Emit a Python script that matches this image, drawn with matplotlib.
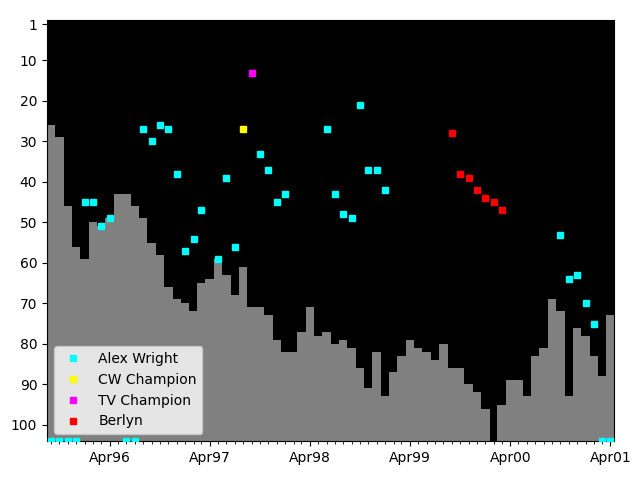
import matplotlib
matplotlib.use('Agg')
import matplotlib.pyplot as plt
import matplotlib.dates as mdates
import numpy as np
import pandas as pd

# Monthly bar values (rank), starting Sep 1995; None = no bar
bar_start = '1995-09-01'
bar_values = [26, 29, 46, 56, 59, 50, 51, 49, 43, 43, 46, 49, 55, 58, 66, 69,
              70, 72, 65, 64, 59, 63, 68, 61, 71, 71, 73, 79, 82, 82, 77, 71,
              78, 77, 80, 79, 81, 86, 91, 82, 93, 87, 83, 79, 81, 82, 84, 80,
              86, 86, 90, 92, 96, None, 95, 89, 89, 93, 83, 81, 69, 72, 93, 76,
              78, 83, 88, 73]

alex_months = ['1996-01', '1996-02', '1996-03', '1996-04', '1996-08', '1996-09',
               '1996-10', '1996-11', '1996-12', '1997-01', '1997-02', '1997-03',
               '1997-05', '1997-06', '1997-07', '1997-10', '1997-11', '1997-12',
               '1998-01', '1998-06', '1998-07', '1998-08', '1998-09', '1998-10',
               '1998-11', '1998-12', '1999-01', '2000-10', '2000-11', '2000-12',
               '2001-01', '2001-02']
alex_ranks = [45, 45, 51, 49, 27, 30, 26, 27, 38, 57, 54, 47,
              59, 39, 56, 33, 37, 45, 43, 27, 43, 48, 49, 21,
              37, 37, 42, 53, 64, 63, 70, 75]
unranked_months = ['1995-09', '1995-10', '1995-11', '1995-12', '1996-06',
                   '1996-07', '2001-03', '2001-04']

cw_months = ['1997-08']
cw_ranks = [27]
tv_months = ['1997-09']
tv_ranks = [13]
berlyn_months = ['1999-09', '1999-10', '1999-11', '1999-12', '2000-01',
                 '2000-02', '2000-03']
berlyn_ranks = [28, 38, 39, 42, 44, 45, 47]

y_bottom = 104
y_ticks = [1, 10, 20, 30, 40, 50, 60, 70, 80, 90, 100]

bar_dates = pd.date_range(bar_start, periods=len(bar_values), freq='MS')
vals = np.array([np.nan if v is None else v for v in bar_values], dtype=float)

def to_dates(ms):
    return pd.to_datetime([m + '-01' for m in ms])

fig, ax = plt.subplots(figsize=(6.4, 4.8), dpi=100)
fig.subplots_adjust(left=0.0734, right=0.960, top=0.9583, bottom=0.0813)
ax.set_facecolor('black')

ax.bar(bar_dates, vals - y_bottom, bottom=y_bottom, width=31,
       color='gray', align='center', zorder=1)

ms = 4
ax.plot(to_dates(alex_months), alex_ranks, 's', color='cyan', ms=ms,
        label='Alex Wright', zorder=3)
ax.plot(to_dates(unranked_months), [y_bottom] * len(unranked_months), 's',
        color='cyan', ms=ms, zorder=3)
ax.plot(to_dates(cw_months), cw_ranks, 's', color='yellow', ms=ms,
        label='CW Champion', zorder=3)
ax.plot(to_dates(tv_months), tv_ranks, 's', color='magenta', ms=ms,
        label='TV Champion', zorder=3)
ax.plot(to_dates(berlyn_months), berlyn_ranks, 's', color='red', ms=ms,
        label='Berlyn', zorder=3)

ax.set_ylim(y_bottom, 0)
ax.set_yticks(y_ticks)
ax.set_xlim(bar_dates[0] - pd.Timedelta(days=15.5),
            bar_dates[-1] + pd.Timedelta(days=15))
ax.xaxis.set_major_locator(mdates.MonthLocator(bymonth=4))
ax.xaxis.set_major_formatter(mdates.DateFormatter('%b%y'))
ax.xaxis.set_minor_locator(mdates.MonthLocator())

ax.legend(loc='lower left', facecolor='white')
fig.savefig('out.png', dpi=100)
